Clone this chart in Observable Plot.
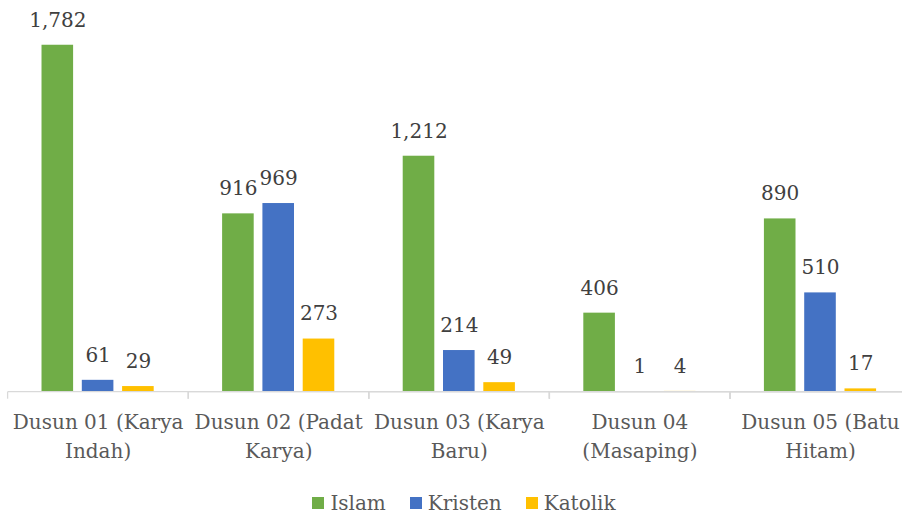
<!DOCTYPE html>
<html>
<head>
<meta charset="utf-8">
<script src="https://cdn.jsdelivr.net/npm/d3@7"></script>
<script src="https://cdn.jsdelivr.net/npm/@observablehq/plot@0.6"></script>
<style>
  html, body { margin: 0; padding: 0; background: #fff; }
  #chart { width: 902px; }
  .legend { display: flex; justify-content: center; align-items: center; margin-top: 13px; line-height: 24px;
            font-family: "DejaVu Serif", serif; font-size: 20px; color: #595959; padding-left: 26px; }
  .legend .item { display: flex; align-items: center; margin: 0 12px; }
  .legend .sw { width: 12px; height: 12px; margin-right: 6px; display: inline-block; }
</style>
</head>
<body>
<div id="chart"></div>
<script>
const categories = [
  "Dusun 01 (Karya Indah)",
  "Dusun 02 (Padat Karya)",
  "Dusun 03 (Karya Baru)",
  "Dusun 04 (Masaping)",
  "Dusun 05 (Batu Hitam)"
];
const tickLabels = [
  "Dusun 01 (Karya\nIndah)",
  "Dusun 02 (Padat\nKarya)",
  "Dusun 03 (Karya\nBaru)",
  "Dusun 04\n(Masaping)",
  "Dusun 05 (Batu\nHitam)"
];
const series = ["Islam", "Kristen", "Katolik"];
const islam   = [1782, 916, 1212, 406, 890];
const kristen = [61, 969, 214, 1, 510];
const katolik = [29, 273, 49, 4, 17];
const colors  = ["#70AD47", "#4472C4", "#FFC000"];

const valuesBySeries = [islam, kristen, katolik];
const data = [];
categories.forEach((c, i) => {
  series.forEach((s, j) => data.push({ cat: c, series: s, value: valuesBySeries[j][i] }));
});
const labelOf = new Map(categories.map((c, i) => [c, tickLabels[i]]));
const fmt = d3.format(",");
const fxRange = [7.3, 910.3];

function axisBaseline(index, scales, values, dimensions) {
  const fx = scales.fx || d3.scaleBand().domain(categories).range(fxRange).padding(0);
  const y0 = scales.y(0);
  const g = d3.create("svg:g").attr("stroke", "#d9d9d9").attr("stroke-width", 1.3);
  const r = fx.range ? fx.range() : fxRange;
  g.append("line").attr("x1", r[0]).attr("x2", r[1]).attr("y1", y0).attr("y2", y0);
  const edges = categories.map(c => fx(c)).concat([fx(categories[categories.length - 1]) + fx.bandwidth()]);
  edges.forEach(x => g.append("line").attr("x1", x).attr("x2", x).attr("y1", y0).attr("y2", y0 + 7));
  return g.node();
}

const chart = Plot.plot({
  width: 902,
  height: 478,
  marginTop: 2.3,
  marginBottom: 86.3,
  marginLeft: 7,
  marginRight: 0,
  style: { fontFamily: "DejaVu Serif, serif", overflow: "visible", background: "#fff" },
  fx: { domain: categories, range: fxRange, padding: 0, round: false, label: null },
  x: { domain: series, axis: null, paddingInner: 0.216, paddingOuter: 0.849, round: false },
  y: { domain: [0, 2000], axis: null },
  color: { domain: series, range: colors },
  marks: [
    Plot.barY(data, { fx: "cat", x: "series", y: "value", fill: "series" }),
    Plot.text(data, { fx: "cat", x: "series", y: "value", text: d => fmt(d.value),
                      dy: -25, fill: "#404040", fontSize: 20 }),
    Plot.axisFx({ anchor: "bottom", tickSize: 0, tickPadding: 16, fontSize: 20, fill: "#595959",
                  lineHeight: 1.45, lineAnchor: "top", tickFormat: c => labelOf.get(c), label: null }),
    axisBaseline
  ]
});
document.getElementById("chart").appendChild(chart);

const legend = document.createElement("div");
legend.className = "legend";
series.forEach((s, i) => {
  const item = document.createElement("span");
  item.className = "item";
  const sw = document.createElement("span");
  sw.className = "sw";
  sw.style.background = colors[i];
  item.appendChild(sw);
  item.appendChild(document.createTextNode(s));
  legend.appendChild(item);
});
document.getElementById("chart").appendChild(legend);
</script>
</body>
</html>
